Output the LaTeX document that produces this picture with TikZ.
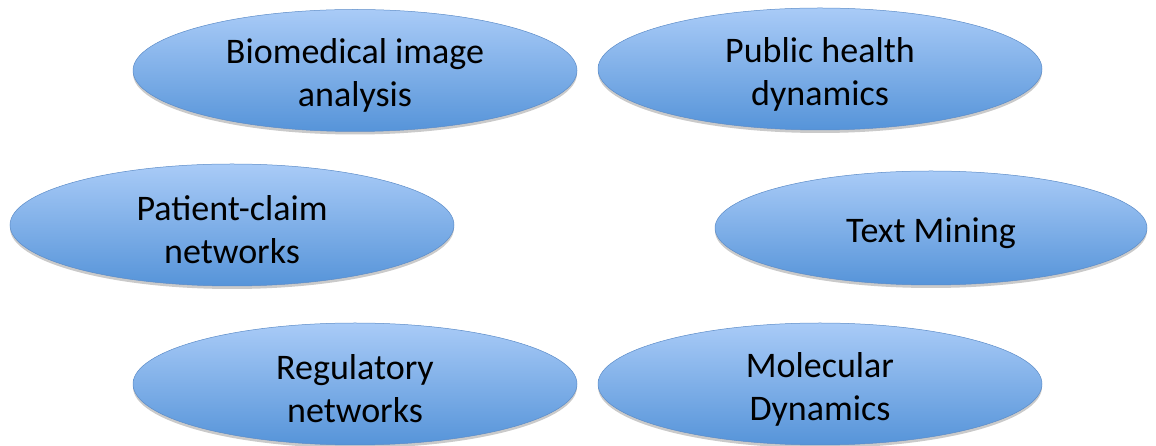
\documentclass[tikz,border=0pt]{standalone}
\usepackage{fontspec}
\setmainfont{Carlito}
\usetikzlibrary{shapes.geometric,shadows}
\definecolor{topblue}{RGB}{169,203,247}
\definecolor{botblue}{RGB}{86,148,217}
\definecolor{edgeblue}{RGB}{92,140,200}
\tikzset{
  topic/.style={ellipse, minimum width=444pt, minimum height=122pt, inner sep=0pt,
    top color=topblue, bottom color=botblue, draw=edgeblue, line width=0.5pt,
    drop shadow={shadow xshift=0pt, shadow yshift=-3pt, opacity=0.35, fill=black!60},
    align=center, font=\fontsize{36}{43}\selectfont},
  lbl/.style={align=center, font=\fontsize{36}{43}\selectfont, inner sep=0pt}
}
\begin{document}
\begin{tikzpicture}[x=1pt,y=1pt]
\useasboundingbox (0,0) rectangle (1156,446);
\node[topic] (bio) at (355,375.5) {};
\node[topic] (pub) at (820,377) {};
\node[topic] (pat) at (232,221) {};
\node[topic, minimum width=432pt, minimum height=114pt] (txt) at (931,218) {};
\node[topic] (reg) at (355,62) {};
\node[topic] (mol) at (820,62) {};
\node[lbl] (biot) at ([yshift=-5pt]bio.center) {Biomedical image\\analysis};
\node[lbl] (pubt) at ([yshift=-5pt]pub.center) {Public health\\dynamics};
\node[lbl] (patt) at ([yshift=-5pt]pat.center) {Patient-claim\\networks};
\node[lbl] (txtt) at ([yshift=-5pt]txt.center) {Text Mining};
\node[lbl] (regt) at ([yshift=-5pt]reg.center) {Regulatory\\networks};
\node[lbl] (molt) at ([yshift=-5pt]mol.center) {Molecular\\Dynamics};
\end{tikzpicture}
\end{document}
